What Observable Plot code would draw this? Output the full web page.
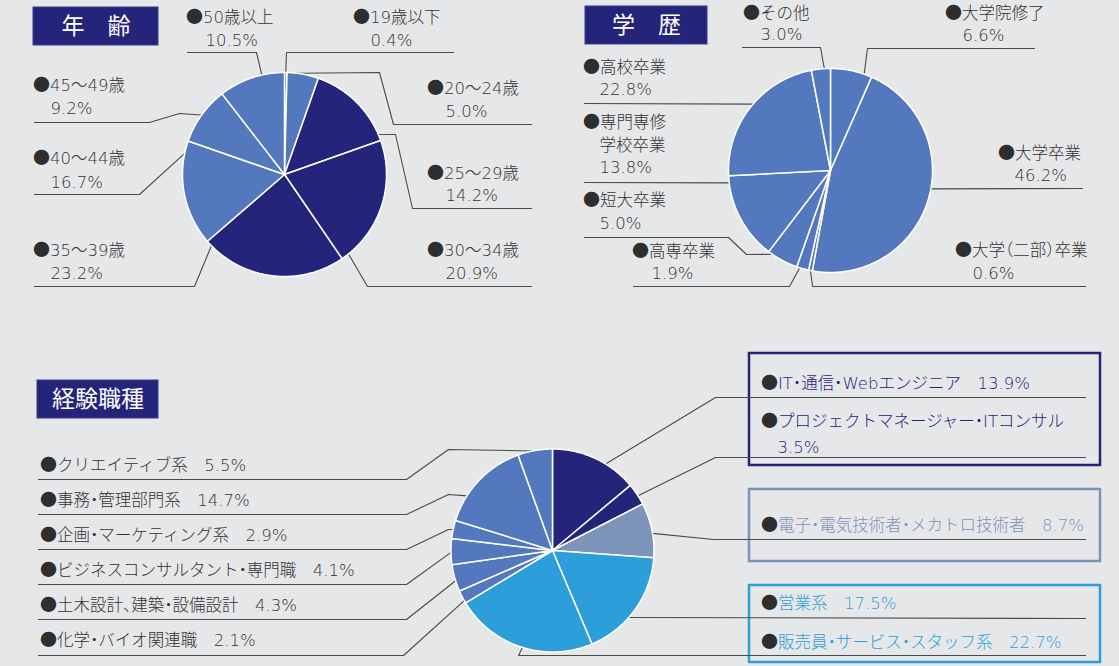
<!DOCTYPE html>
<html>
<head>
<meta charset="utf-8">
<script src="https://cdn.jsdelivr.net/npm/d3@7"></script>
<script src="https://cdn.jsdelivr.net/npm/@observablehq/plot@0.6"></script>
<style>
  html, body { margin: 0; padding: 0; background: #e6e7e9; }
  #chart svg { display: block; }
  #chart svg text { font-feature-settings: "halt"; }
</style>
</head>
<body>
<div id="chart"></div>
<script>
// ---------------- DATA ----------------
const sectionTitles = ["年　齢", "学　歴", "経験職種"];

const ageCategories = ["19歳以下", "20～24歳", "25～29歳", "30～34歳", "35～39歳", "40～44歳", "45～49歳", "50歳以上"];
const ageValues = [0.4, 5.0, 14.2, 20.9, 23.2, 16.7, 9.2, 10.5];

const eduCategories = ["大学院修了", "大学卒業", "大学（二部）卒業", "高専卒業", "短大卒業", "専門専修学校卒業", "高校卒業", "その他"];
const eduValues = [6.6, 46.2, 0.6, 1.9, 5.0, 13.8, 22.8, 3.0];

const jobCategories = ["IT・通信・Webエンジニア", "プロジェクトマネージャー・ITコンサル", "電子・電気技術者・メカトロ技術者", "営業系", "販売員・サービス・スタッフ系", "化学・バイオ関連職", "土木設計、建築・設備設計", "ビジネスコンサルタント・専門職", "企画・マーケティング系", "事務・管理部門系", "クリエイティブ系"];
const jobValues = [13.9, 3.5, 8.7, 17.5, 22.7, 2.1, 4.3, 4.1, 2.9, 14.7, 5.5];

// ---------------- STYLES ----------------
const C = {navy: "#25247b", mid: "#5478bd", grayblue: "#7c94ba", sky: "#2c9fda", text: "#333333", line: "#4a4a4a", bg: "#e6e7e9"};
const ageColors = [C.mid, C.mid, C.navy, C.navy, C.navy, C.mid, C.mid, C.mid];
const eduColors = eduValues.map(() => C.mid);
const jobColors = [C.navy, C.navy, C.grayblue, C.sky, C.sky, C.mid, C.mid, C.mid, C.mid, C.mid, C.mid];
const jobTextColors = [C.navy, C.navy, C.grayblue, C.sky, C.sky, C.text, C.text, C.text, C.text, C.text, C.text];

// ---------------- LAYOUT ----------------
const W = 1119, H = 666;
const pieGeo = {
  age: {cx: 284, cy: 174, r: 102},
  edu: {cx: 830, cy: 170, r: 102},
  job: {cx: 552, cy: 550, r: 101.5}
};
const titleBoxes = [
  {x1: 33, x2: 158, y1: 7, y2: 45},
  {x1: 585, x2: 707, y1: 6, y2: 44},
  {x1: 37, x2: 158, y1: 380, y2: 418}
];
const jobBoxes = [
  {x1: 749, x2: 1100, y1: 353, y2: 465, color: C.navy},
  {x1: 749, x2: 1100, y1: 489, y2: 561, color: C.grayblue},
  {x1: 749, x2: 1100, y1: 585, y2: 662, color: C.sky}
];
const BULLET_GAP = 15.5;
// t: position of leader start within the slice; path: elbow points; name/pct: label anchors
const ageLayout = [
  {t: 0.5, path: [[286, 52], [453, 52]], name: [354, 17], pct: [370, 40]},
  {t: 0.3, path: [[379, 72], [393, 124], [531, 124]], name: [428, 88], pct: [445, 111]},
  {t: 0.93, path: [[395, 134], [412, 208], [531, 208]], name: [428, 173], pct: [445, 195]},
  {t: 0.94, path: [[367, 286], [531, 286]], name: [428, 250], pct: [445, 273]},
  {t: 0.96, path: [[194, 286], [34, 286]], name: [34, 250], pct: [50, 273]},
  {t: 0.88, path: [[139, 194], [34, 194]], name: [34, 158], pct: [50, 182]},
  {t: 0.5, path: [[179, 113], [149, 122], [34, 122]], name: [34, 85], pct: [50, 108]},
  {t: 0.66, path: [[256, 52], [187, 52]], name: [187, 17], pct: [205, 40]}
];
const eduLayout = [
  {t: 0.81, path: [[867, 48], [1034, 48]], name: [946, 13], pct: [962, 35]},
  {t: 0.46, path: [[1082, 188]], name: [999, 153], pct: [1014, 175]},
  {t: 0.5, path: [[812, 286], [1085, 286]], name: [956, 250], pct: [972, 273]},
  {t: 0.75, path: [[789, 286], [633, 286]], name: [633, 251], pct: [651, 273]},
  {t: 0.86, path: [[746, 254], [728, 237], [584, 237]], name: [584, 200], pct: [599, 223]},
  {t: 0.92, path: [[584, 182]], name: [584, 122], name2: [599, 145], breakAt: 4, pct: [599, 167]},
  {t: 0.53, path: [[584, 103]], name: [584, 67], pct: [599, 89]},
  {t: 0.68, path: [[820, 47], [742, 47]], name: [744, 13], pct: [760, 34]}
];
const jobLayout = [
  {t: 0.63, path: [[715, 397], [1085, 397]], name: [762, 383]},
  {t: 0.58, path: [[715, 457], [1085, 457]], name: [762, 421], pct: [777, 447]},
  {t: 0.56, path: [[713, 539], [1085, 539]], name: [762, 525]},
  {t: 0.59, path: [[1085, 618]], name: [762, 603]},
  {t: 0.49, path: [[518, 655], [1085, 655]], name: [762, 642]},
  {t: 0.2, path: [[403, 655], [38, 655]], name: [41, 640]},
  {t: 0.4, path: [[406, 619], [38, 619]], name: [41, 605]},
  {t: 0.47, path: [[406, 584], [38, 584]], name: [41, 570]},
  {t: 0.5, path: [[448, 529], [406, 549], [38, 549]], name: [41, 535]},
  {t: 0.29, path: [[448, 494], [406, 514], [38, 514]], name: [41, 500]},
  {t: 0.43, path: [[448, 449], [406, 479], [38, 479]], name: [41, 465]}
];

// ---------------- BUILD ----------------
const fmt = v => v.toFixed(1) + "%";
const slicePts = [], leaders = [], labels = [], bullets = [];

function buildPie(key, vals, colors, layout) {
  const g = pieGeo[key];
  const arcs = d3.pie().sort(null).startAngle(0).endAngle(2 * Math.PI)(vals);
  arcs.forEach((a, i) => {
    const id = key + i;
    const pt = ang => ({x: g.cx + g.r * Math.sin(ang), y: g.cy - g.r * Math.cos(ang)});
    slicePts.push({id, color: colors[i], x: g.cx, y: g.cy});
    const n = Math.max(2, Math.ceil((a.endAngle - a.startAngle) / (Math.PI / 360)));
    for (let k = 0; k <= n; k++) {
      const p = pt(a.startAngle + (a.endAngle - a.startAngle) * k / n);
      slicePts.push({id, color: colors[i], ...p});
    }
    slicePts.push({id, color: colors[i], x: g.cx, y: g.cy});
    const L = layout[i];
    const s = pt(a.startAngle + L.t * (a.endAngle - a.startAngle));
    leaders.push({id, x: s.x, y: s.y});
    L.path.forEach(([x, y]) => leaders.push({id, x, y}));
  });
}
buildPie("age", ageValues, ageColors, ageLayout);
buildPie("edu", eduValues, eduColors, eduLayout);
buildPie("job", jobValues, jobColors, jobLayout);

function named(x, y, text, color) {
  bullets.push({x, y});
  labels.push({x: x + BULLET_GAP, y, text, color});
}
ageCategories.forEach((c, i) => {
  const L = ageLayout[i];
  named(L.name[0], L.name[1], c, C.text);
  labels.push({x: L.pct[0], y: L.pct[1], text: fmt(ageValues[i]), color: C.text});
});
eduCategories.forEach((c, i) => {
  const L = eduLayout[i];
  if (L.breakAt) {
    named(L.name[0], L.name[1], c.slice(0, L.breakAt), C.text);
    labels.push({x: L.name2[0], y: L.name2[1], text: c.slice(L.breakAt), color: C.text});
  } else {
    named(L.name[0], L.name[1], c, C.text);
  }
  labels.push({x: L.pct[0], y: L.pct[1], text: fmt(eduValues[i]), color: C.text});
});
jobCategories.forEach((c, i) => {
  const L = jobLayout[i];
  if (L.pct) {
    named(L.name[0], L.name[1], c, jobTextColors[i]);
    labels.push({x: L.pct[0], y: L.pct[1], text: fmt(jobValues[i]), color: jobTextColors[i]});
  } else {
    named(L.name[0], L.name[1], c + "　" + fmt(jobValues[i]), jobTextColors[i]);
  }
});
const titles = titleBoxes.map((b, i) => ({...b, title: sectionTitles[i]}));

const chart = Plot.plot({
  width: W, height: H, margin: 0,
  x: {type: "linear", domain: [0, W], range: [0, W], axis: null},
  y: {type: "linear", domain: [0, H], range: [0, H], axis: null},
  color: {type: "identity"},
  style: {background: C.bg, fontFamily: "'DejaVu Sans', 'Noto Sans CJK JP', sans-serif"},
  marks: [
    Plot.rect(titles, {x1: "x1", x2: "x2", y1: "y1", y2: "y2", fill: C.navy, stroke: "#3b3b8c", strokeWidth: 1}),
    Plot.text(titles, {x: d => (d.x1 + d.x2) / 2, y: d => (d.y1 + d.y2) / 2, text: "title", fill: "white", fontSize: 23, fontFamily: "'Noto Sans CJK JP', sans-serif"}),
    Plot.rect(jobBoxes, {x1: "x1", x2: "x2", y1: "y1", y2: "y2", fill: "none", stroke: "color", strokeWidth: 2.5}),
    Plot.line(leaders, {x: "x", y: "y", z: "id", stroke: C.line, strokeWidth: 1.1, curve: "linear"}),
    Plot.line(slicePts, {x: "x", y: "y", z: "id", fill: "color", stroke: "white", strokeWidth: 1.5, curve: "linear"}),
    Plot.text(bullets, {x: d => d.x - 1.5, y: "y", text: () => "●", fill: "#2e2e2e", textAnchor: "start", fontSize: 17, fontFamily: "'Noto Sans CJK JP', sans-serif"}),
    Plot.text(labels, {x: "x", y: "y", text: "text", fill: "color", textAnchor: "start", fontSize: 16.5, fontWeight: 300})
  ]
});
document.getElementById("chart").appendChild(chart);
</script>
</body>
</html>
